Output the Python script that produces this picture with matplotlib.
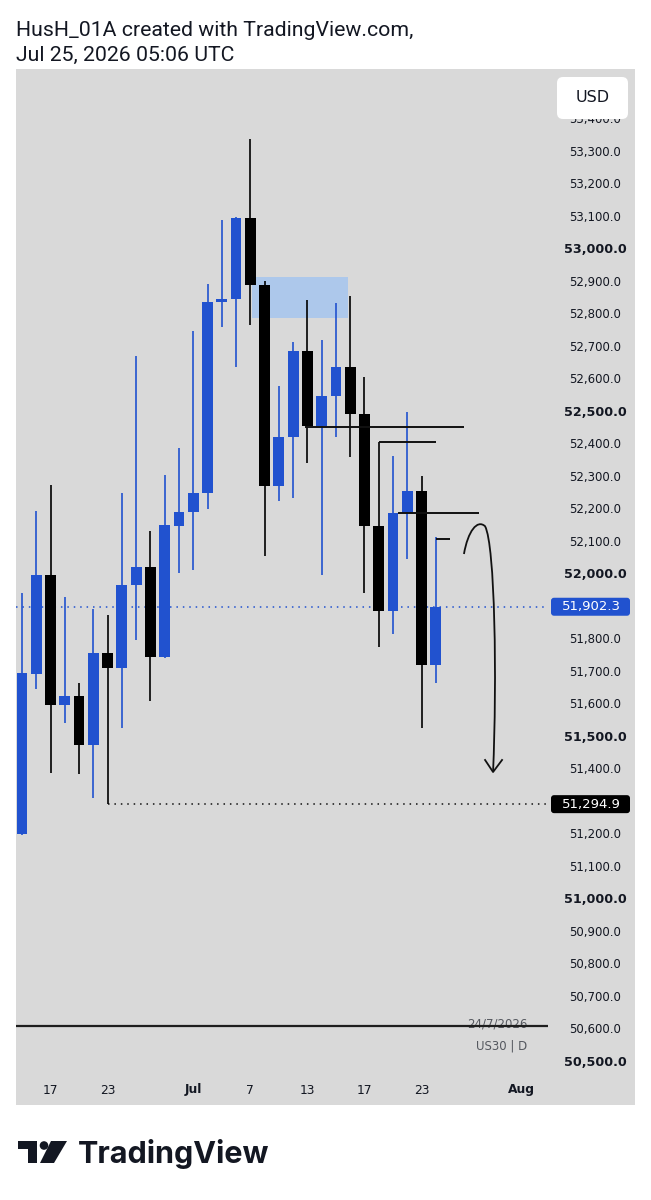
import matplotlib
matplotlib.use("Agg")
import matplotlib.pyplot as plt
import matplotlib.transforms as mtransforms
from matplotlib.patches import Rectangle, FancyBboxPatch, Polygon, Circle, PathPatch
from matplotlib.path import Path
import numpy as np
import pandas as pd

# ---------------- data ----------------
dates = ["2026-06-15", "2026-06-16", "2026-06-17", "2026-06-18", "2026-06-19",
         "2026-06-22", "2026-06-23", "2026-06-24", "2026-06-25", "2026-06-26",
         "2026-06-29", "2026-06-30", "2026-07-01", "2026-07-02", "2026-07-03",
         "2026-07-06", "2026-07-07", "2026-07-08", "2026-07-09", "2026-07-10",
         "2026-07-13", "2026-07-14", "2026-07-15", "2026-07-16", "2026-07-17",
         "2026-07-20", "2026-07-21", "2026-07-22", "2026-07-23", "2026-07-24"]
opens = [51203, 51695, 52000, 51600, 51628, 51477, 51760, 51714, 51969, 52025,
         51748, 52151, 52194, 52252, 52840, 52849, 53098, 52892, 52274, 52425,
         52689, 52458, 52551, 52640, 52495, 52151, 51889, 52191, 52258, 51723]
highs = [51945, 52197, 52277, 51932, 51668, 51895, 51877, 52252, 52674, 52135,
         52308, 52391, 52751, 52895, 53092, 53100, 53342, 52905, 52582, 52717,
         52846, 52723, 52837, 52858, 52609, 52409, 52366, 52502, 52305, 52117]
lows = [51200, 51649, 51391, 51545, 51388, 51314, 51294.9, 51529, 51800, 51612,
        51745, 52006, 52015, 52203, 52763, 52640, 52769, 52058, 52228, 52237,
        52345, 52000, 52425, 52363, 51945, 51778, 51818, 52049, 51529, 51668]
closes = [51698, 52000, 51600, 51628, 51477, 51760, 51714, 51969, 52025, 51748,
          52154, 52194, 52252, 52840, 52849, 53098, 52892, 52274, 52425, 52689,
          52458, 52551, 52640, 52495, 52151, 51889, 52191, 52258, 51723, 51902.3]

date_tick_labels = ["17", "23", "Jul", "7", "13", "17", "23", "Aug"]
date_tick_dates = ["2026-06-17", "2026-06-23", "2026-07-01", "2026-07-07",
                   "2026-07-13", "2026-07-17", "2026-07-23", "2026-08-03"]
date_tick_bold = [False, False, True, False, False, False, False, True]

# 51,900 and 51,300 are covered by the price badges in the reference
price_ticks = [p for p in range(50500, 53401, 100) if p not in (51900, 51300)]

last_price = 51902.3
marked_low = 51294.9
marked_low_date = "2026-06-23"

zone_start, zone_end = "2026-07-07", "2026-07-16"
zone_low, zone_high = 52791, 52917

level_prices = [52455, 52409, 52191, 52111]
level_start = ["2026-07-13", "2026-07-20", "2026-07-21", "2026-07-24"]
level_end = ["2026-07-28", "2026-07-24", "2026-07-29", "2026-07-27"]

hline_price = 50612

# ---------------- style ----------------
BLUE = "#2152cf"
BLACK = "#000000"
PANEL = "#d9d9d9"
TXT = "#131722"

bdays = pd.bdate_range("2026-06-15", "2026-08-14")
pos = {d.strftime("%Y-%m-%d"): i for i, d in enumerate(bdays)}

W, H = 651, 1200
fig = plt.figure(figsize=(W / 100, H / 100), dpi=100)
fig.patch.set_facecolor("white")

# background (pixel coords)
bg = fig.add_axes([0, 0, 1, 1], zorder=0)
bg.set_xlim(0, W)
bg.set_ylim(H, 0)
bg.axis("off")
bg.add_patch(Rectangle((16, 69), 619, 1036, fc=PANEL, ec="none"))
bg.text(16, 30, "HusH_01A created with TradingView.com,", fontsize=15.3,
        family="Roboto", va="center", ha="left", color=TXT)
bg.text(16, 55, "Jul 25, 2026 05:06 UTC", fontsize=15.3,
        family="Roboto", va="center", ha="left", color=TXT)
bg.text(527, 1024, "24/7/2026", fontsize=8.5, color="#55585f", ha="right", va="center")
bg.text(527, 1045.5, "US30 | D", fontsize=8.5, color="#55585f", ha="right", va="center")

# TradingView logo
bg.add_patch(Polygon([(18, 1141), (37, 1141), (37, 1163), (28, 1163), (28, 1149), (18, 1149)],
                     closed=True, fc="#131722", ec="none"))
bg.add_patch(Circle((44, 1145.5), 4.3, fc="#131722", ec="none"))
bg.add_patch(Polygon([(51, 1141), (67, 1141), (54, 1163), (40, 1163)],
                     closed=True, fc="#131722", ec="none"))
bg.text(78, 1163, "TradingView", fontsize=22, family="Inter", fontweight="bold",
        color="#131722", ha="left", va="baseline")

# main chart axes
ax_left, ax_right, ax_top, ax_bot = 16, 548, 69, 1078
ax = fig.add_axes([ax_left / W, 1 - ax_bot / H, (ax_right - ax_left) / W, (ax_bot - ax_top) / H],
                  zorder=1)
ax.set_facecolor("none")
for s in ax.spines.values():
    s.set_visible(False)
ax.set_xticks([])
ax.set_yticks([])
ax.set_xlim(-0.42, 36.86)
ax.set_ylim(50452.3, 53556.9)

xs = np.array([pos[d] for d in dates], dtype=float)
bw = 0.76
for x, o, h, l, c in zip(xs, opens, highs, lows, closes):
    col = BLUE if c >= o else BLACK
    ax.vlines(x, l, h, color=col, lw=1.2, zorder=3)
    lo, hi = min(o, c), max(o, c)
    ax.add_patch(Rectangle((x - bw / 2, lo), bw, max(hi - lo, 4), fc=col, ec="none", zorder=4))

# supply zone
ax.add_patch(Rectangle((pos[zone_start] + 0.1, zone_low), pos[zone_end] - pos[zone_start] - 0.25,
                       zone_high - zone_low, fc="#a9c7ee", ec="none", alpha=0.9, zorder=2))

# drawn levels
offs = [-0.15, 0.0, 0.35, 0.0]
for p, s, e, o in zip(level_prices, level_start, level_end, offs):
    ax.plot([pos[s] + o, pos[e]], [p, p], color="#111111", lw=1.4, zorder=5, solid_capstyle="butt")

# last price dotted + marked low dotted
ax.axhline(last_price, color=BLUE, lw=1.1, ls=(0, (1, 3.2)), zorder=1)
ax.plot([pos[marked_low_date], ax.get_xlim()[1]], [marked_low, marked_low], color="#111111",
        lw=1.1, ls=(0, (1, 3.2)), zorder=1)

# bottom horizontal line
ax.axhline(hline_price, color="#1e1e1e", lw=1.6, zorder=5)

# hand-drawn arrow
verts = [(30.97, 52064.6), (31.25, 52135.0), (31.9, 52172.0), (32.45, 52150.0),
         (33.15, 52092.3), (33.29, 51676.9), (33.01, 51393.8)]
codes = [Path.MOVETO, Path.CURVE4, Path.CURVE4, Path.CURVE4, Path.CURVE4, Path.CURVE4, Path.CURVE4]
ax.add_patch(PathPatch(Path(verts, codes), fc="none", ec="#111111", lw=1.3, zorder=6))
ax.plot([32.45, 33.01, 33.64], [51430.8, 51393.8, 51430.8], color="#111111", lw=1.3, zorder=6)

# price scale labels
yr = ax.get_ylim()
ax_h_in = (ax_bot - ax_top) / 100
ppi = (yr[1] - yr[0]) / ax_h_in   # price per inch
tr_xin_ydata = mtransforms.blended_transform_factory(fig.dpi_scale_trans, ax.transData)
for p in price_ticks:
    bold = (p % 500 == 0)
    ax.text(5.955, p, f"{p:,.1f}", transform=tr_xin_ydata, ha="center", va="center",
            fontsize=9.2 if bold else 8.5, fontweight="bold" if bold else "normal",
            color=TXT, clip_on=False, zorder=3)

box_h = 0.18 * ppi
for p, fc in [(last_price, BLUE), (marked_low, "#000000")]:
    ax.add_patch(FancyBboxPatch((5.51, p - box_h / 2), 0.79, box_h,
                                boxstyle="round,pad=0,rounding_size=0.03",
                                mutation_aspect=ppi, transform=tr_xin_ydata,
                                fc=fc, ec="none", clip_on=False, zorder=10))
    ax.text(5.915, p, f"{p:,.1f}", transform=tr_xin_ydata, ha="center", va="center",
            fontsize=9.5, color="white", clip_on=False, zorder=11)

# date labels
tr_xdata_yin = mtransforms.blended_transform_factory(ax.transData, fig.dpi_scale_trans)
for lab, d, b in zip(date_tick_labels, date_tick_dates, date_tick_bold):
    ax.text(pos[d], (H - 1090) / 100, lab, transform=tr_xdata_yin, ha="center", va="center",
            fontsize=8.8, fontweight="bold" if b else "normal", color=TXT, clip_on=False)

# top overlay: USD box
top = fig.add_axes([0, 0, 1, 1], zorder=3)
top.set_xlim(0, W)
top.set_ylim(H, 0)
top.axis("off")
top.add_patch(FancyBboxPatch((557, 77), 71, 42, boxstyle="round,pad=0,rounding_size=6",
                             fc="white", ec="none"))
top.text(592.5, 98, "USD", fontsize=11.5, ha="center", va="center", color=TXT, fontweight="medium")

fig.savefig("out.png", dpi=100, facecolor="white")
